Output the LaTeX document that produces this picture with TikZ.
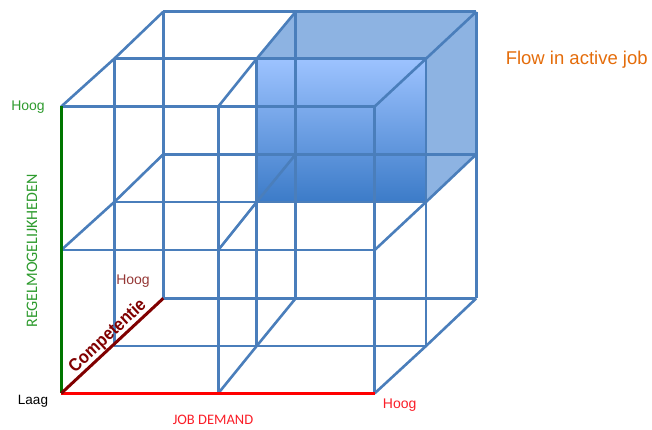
\documentclass[tikz,border=0pt]{standalone}
\usepackage{fontspec}
\setmainfont{Liberation Sans}
\newfontfamily\carlito{Carlito}
\definecolor{gridblue}{RGB}{74,126,187}
\definecolor{axgreen}{RGB}{0,118,0}
\definecolor{txtgreen}{RGB}{46,155,46}
\definecolor{axred}{RGB}{255,0,0}
\definecolor{txtred}{RGB}{250,30,40}
\definecolor{cmaroon}{RGB}{128,0,0}
\definecolor{hoogmaroon}{RGB}{149,55,53}
\definecolor{flow}{RGB}{228,108,10}
\definecolor{cubeside}{RGB}{141,179,226}
\definecolor{cubelight}{RGB}{157,195,255}
\definecolor{cubedark}{RGB}{60,123,200}
\begin{document}
\begin{tikzpicture}[x=1pt,y=-1pt,
  gridline/.style={draw=gridblue,line width=2.6pt,line join=round},
  greenaxis/.style={draw=axgreen,line width=3pt},
  redaxis/.style={draw=axred,line width=3pt},
  maroonaxis/.style={draw=cmaroon,line width=3pt},
  lbl/.style={inner sep=0pt,font=\fontsize{14}{16}\selectfont}]
\useasboundingbox (0,0) rectangle (652,430);
% grid points: l/m/r (x) , t/m/b (y), depth 0 front,1 middle,2 back
\foreach \d/\xl/\xm/\xr/\yt/\ym/\yb in {
  0/61.3/218.3/374.7/106.5/250/393.3,
  1/114.3/256.7/426/58.7/202/346,
  2/163.3/295.7/476.3/11.7/154.3/298.3}{
  \coordinate (lt\d) at (\xl,\yt);
  \coordinate (mt\d) at (\xm,\yt);
  \coordinate (rt\d) at (\xr,\yt);
  \coordinate (lm\d) at (\xl,\ym);
  \coordinate (mm\d) at (\xm,\ym);
  \coordinate (rm\d) at (\xr,\ym);
  \coordinate (lb\d) at (\xl,\yb);
  \coordinate (mb\d) at (\xm,\yb);
  \coordinate (rb\d) at (\xr,\yb);
}
% shaded cube
\fill[cubeside] (mt1) -- (rt1) -- (rt2) -- (mt2) -- cycle;
\fill[cubeside] (rt1) -- (rt2) -- (rm2) -- (rm1) -- cycle;
\shade[top color=cubelight,bottom color=cubedark] (mt1) -- (rt1) -- (rm1) -- (mm1) -- cycle;
% horizontal and vertical lines
\foreach \d in {0,1,2}{
  \draw[gridline] (lt\d) -- (rt\d);
  \draw[gridline] (lm\d) -- (rm\d);
  \draw[gridline] (mt\d) -- (mb\d);
  \draw[gridline] (rt\d) -- (rb\d);
}
\foreach \d in {1,2}{
  \draw[gridline] (lb\d) -- (rb\d);
  \draw[gridline] (lt\d) -- (lb\d);
}
% oblique lines
\foreach \p in {lt,mt,rt,lm,mm,rm,mb,rb}{
  \draw[gridline] (\p0) -- (\p1) -- (\p2);
}
% axes
\draw[greenaxis] (lt0) -- (lb0);
\draw[redaxis] (lb0) -- (rb0);
\draw[maroonaxis] (lb0) -- node[pos=0.523,above=0pt,sloped,inner sep=0pt,text=cmaroon,font=\bfseries\fontsize{18}{20}\selectfont] (comp) {\scalebox{0.9}[1]{Competentie}} (lb2);
% labels
\node[lbl,text=txtgreen,anchor=base] (hoogg) at (28,110.7) {Hoog};
\node[inner sep=0pt,text=txtgreen,rotate=90,font=\carlito\fontsize{16}{18}\selectfont] (regel) at (32,251) {REGELMOGELIJKHEDEN};
\node[lbl,text=black,anchor=base,font=\fontsize{13.5}{16}\selectfont] (laag) at (33,404) {Laag};
\node[inner sep=0pt,text=txtred,anchor=base,font=\carlito\fontsize{14.5}{16}\selectfont] (job) at (213,424) {JOB DEMAND};
\node[lbl,text=txtred,anchor=base] (hoogr) at (399.7,408.3) {Hoog};
\node[lbl,text=hoogmaroon,anchor=base] (hoogm) at (133,284) {Hoog};
\node[inner sep=0pt,text=flow,anchor=base,font=\fontsize{18.5}{20}\selectfont] (flowtxt) at (576.7,65) {Flow in active job};
\end{tikzpicture}
\end{document}
